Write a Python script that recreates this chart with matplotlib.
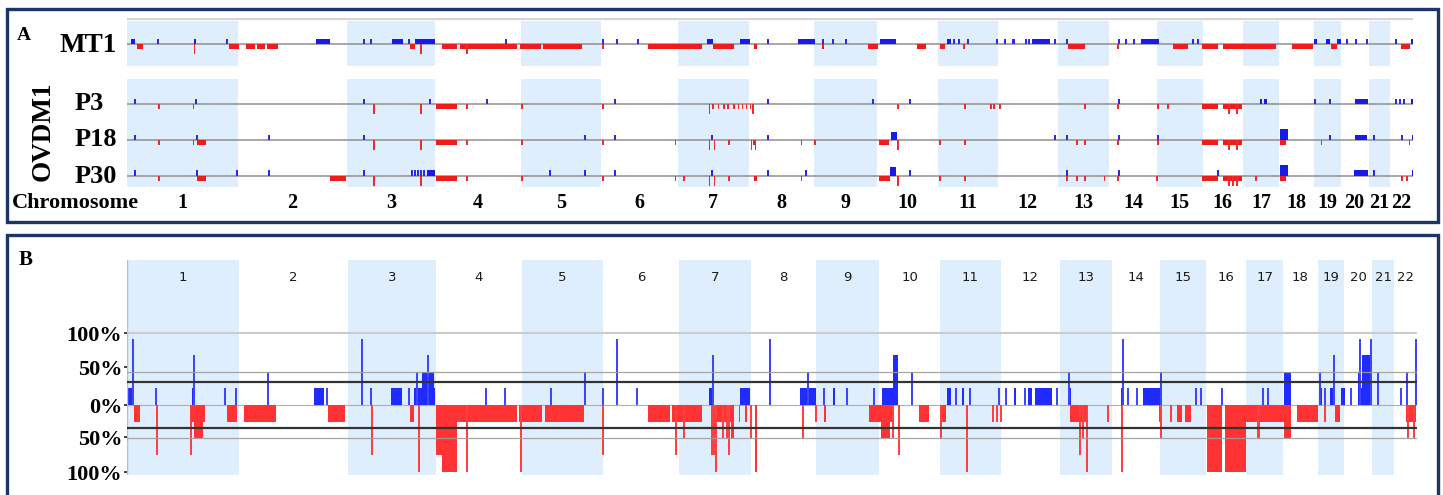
"""
Copy-number overview: per-sample gain/loss tracks (panel A) and
gain/loss frequency across the four samples (panel B).
"""

import matplotlib
matplotlib.use("Agg")
import matplotlib.pyplot as plt
from matplotlib.patches import Rectangle

W, H = 1443, 495

# chromosome lengths in Mb (hg19)
chrom_names = [str(i) for i in range(1, 23)]
chrom_len = [249.3, 243.2, 198.0, 191.2, 180.9, 171.1, 159.1, 146.4, 141.2, 135.5,
             135.0, 133.9, 115.2, 107.3, 102.5, 90.4, 81.2, 78.1, 59.1, 63.0, 48.1, 51.3]

# panel A: (start Mb, end Mb, level) in genome-wide coordinates, start == end is a focal event
mt1_gain = [(8, 18, 1), (70, 70, 1), (149, 155, 1), (225, 225, 1), (424, 455, 1), (530, 530, 1),
            (547, 547, 1), (593, 619, 1), (631, 631, 1), (646, 691, 1), (850, 850, 1), (1067, 1067, 1),
            (1098, 1098, 1), (1144, 1144, 1), (1300, 1313, 1), (1373, 1395, 1), (1436, 1436, 1),
            (1504, 1542, 1), (1560, 1560, 1), (1582, 1582, 1), (1611, 1611, 1), (1688, 1722, 1),
            (1836, 1845, 1), (1853, 1853, 1), (1864, 1864, 1), (1883, 1883, 1), (1950, 1950, 1),
            (1968, 1968, 1), (1986, 1986, 1), (2013, 2013, 1), (2021, 2021, 1), (2028, 2068, 1),
            (2078, 2078, 1), (2105, 2105, 1), (2223, 2223, 1), (2238, 2238, 1), (2256, 2256, 1),
            (2271, 2311, 1), (2388, 2388, 1), (2400, 2400, 1), (2660, 2667, 1), (2686, 2696, 1),
            (2711, 2720, 1), (2733, 2733, 1), (2753, 2753, 1), (2777, 2777, 1), (2843, 2843, 1),
            (2876, 2880, 1)]
mt1_loss = [(22, 35, 1), (151, 151, 2), (229, 250, 1), (267, 287, 1), (292, 309, 1), (313, 339, 1),
            (633, 646, 1), (658, 658, 2), (706, 739, 1), (747, 874, 1), (762, 762, 2), (880, 928, 1),
            (933, 1019, 1), (1067, 1067, 1), (1167, 1288, 1), (1313, 1359, 1), (1404, 1412, 1),
            (1558, 1561, 1), (1660, 1682, 1), (1769, 1791, 1), (1821, 1832, 1), (1875, 1875, 1),
            (2108, 2146, 1), (2220, 2220, 1), (2344, 2376, 1), (2409, 2444, 1), (2456, 2574, 1),
            (2609, 2658, 1), (2697, 2711, 1), (2853, 2875, 1)]

p3_gain = [(18, 18, 1), (154, 154, 1), (530, 530, 1), (679, 679, 1), (806, 806, 1), (1094, 1094, 1),
           (1436, 1436, 1), (1672, 1672, 1), (1755, 1755, 1), (2223, 2223, 1), (2538, 2543, 1),
           (2548, 2553, 1), (2662, 2662, 1), (2696, 2696, 1), (2751, 2781, 1), (2843, 2843, 1),
           (2852, 2852, 1), (2861, 2861, 1), (2876, 2880, 1)]
p3_loss = [(72, 72, 1), (149, 149, 1), (554, 554, 2), (658, 658, 2), (693, 739, 1), (762, 762, 1),
           (885, 885, 1), (1067, 1067, 1), (1305, 1305, 2), (1312, 1312, 1), (1325, 1325, 1),
           (1338, 1338, 1), (1347, 1347, 1), (1359, 1359, 1), (1370, 1370, 1), (1379, 1379, 1),
           (1388, 1388, 1), (1397, 1397, 1), (1403, 1403, 2), (1728, 1728, 1), (1877, 1877, 1),
           (1936, 1936, 1), (1942, 1942, 1), (1956, 1956, 1), (2146, 2146, 1), (2220, 2220, 1),
           (2310, 2310, 1), (2332, 2332, 1), (2409, 2444, 1), (2456, 2498, 1), (2469, 2469, 2),
           (2486, 2486, 2)]

p18_gain = [(18, 18, 1), (156, 156, 1), (318, 318, 1), (530, 530, 1), (1025, 1025, 1), (1094, 1094, 1),
            (1311, 1311, 1), (1436, 1436, 1), (1712, 1724, 1.5), (2078, 2078, 1), (2105, 2105, 1),
            (2223, 2223, 1), (2310, 2310, 1), (2583, 2600, 2), (2696, 2696, 1), (2751, 2779, 1),
            (2794, 2794, 1), (2856, 2856, 1), (2878, 2880, 1)]
p18_loss = [(72, 72, 1), (149, 149, 1), (156, 177, 1), (554, 554, 2), (658, 658, 2), (693, 739, 1),
            (762, 762, 1), (885, 885, 1), (1067, 1067, 1), (1229, 1229, 1), (1305, 1305, 2),
            (1316, 1316, 2), (1348, 1348, 1), (1399, 1399, 2), (1403, 1410, 1), (1408, 1408, 2),
            (1511, 1511, 1), (1541, 1541, 1), (1684, 1707, 1), (1728, 1728, 2), (1821, 1821, 1),
            (1877, 1877, 1), (2128, 2128, 1), (2146, 2146, 1), (2220, 2220, 1), (2310, 2310, 1),
            (2409, 2444, 1), (2456, 2498, 1), (2469, 2469, 2), (2486, 2486, 2), (2583, 2596, 1),
            (2676, 2676, 1), (2873, 2873, 1)]

p30_gain = [(18, 18, 1), (156, 156, 1), (247, 247, 1), (318, 318, 1), (530, 530, 1), (638, 638, 1),
            (645, 645, 1), (652, 652, 1), (659, 659, 1), (666, 666, 1), (672, 691, 1), (948, 948, 1),
            (1025, 1025, 1), (1094, 1094, 1), (1311, 1311, 1), (1436, 1436, 1), (1522, 1522, 1),
            (1709, 1722, 1.5), (1755, 1755, 1), (2105, 2105, 1), (2223, 2223, 1), (2444, 2444, 1),
            (2583, 2600, 2), (2748, 2781, 1), (2794, 2794, 1), (2878, 2880, 1)]
p30_loss = [(72, 72, 1), (156, 177, 1), (455, 491, 1), (554, 554, 2), (658, 658, 2), (693, 739, 1),
            (762, 762, 1), (885, 885, 1), (1067, 1067, 1), (1229, 1229, 1), (1247, 1247, 1),
            (1305, 1305, 2), (1316, 1316, 2), (1348, 1348, 1), (1404, 1412, 1), (1511, 1511, 1),
            (1684, 1709, 1), (1728, 1728, 2), (1821, 1821, 1), (1877, 1877, 1), (2105, 2105, 1),
            (2128, 2128, 1), (2146, 2146, 1), (2190, 2190, 1), (2220, 2220, 1), (2307, 2307, 1),
            (2409, 2444, 1), (2456, 2498, 1), (2469, 2469, 2), (2478, 2478, 2), (2486, 2486, 2),
            (2529, 2529, 1), (2583, 2596, 1), (2857, 2857, 1), (2868, 2868, 1)]

# panel B: frequency of gains / losses (%), (start Mb, end Mb, percent)
freq_gain = [(3, 14, 25), (13, 13, 100), (65, 65, 25), (145, 152, 25), (150, 150, 75), (219, 219, 25),
             (243, 243, 25), (314, 314, 50), (418, 441, 25), (447, 447, 25), (525, 525, 100),
             (546, 546, 25), (589, 615, 25), (630, 630, 25), (640, 688, 25), (647, 647, 50),
             (659, 685, 50), (673, 673, 75), (801, 801, 25), (845, 845, 25), (948, 948, 25),
             (1023, 1023, 50), (1064, 1064, 25), (1095, 1095, 100), (1140, 1140, 25), (1300, 1310, 25),
             (1308, 1308, 75), (1370, 1392, 25), (1435, 1435, 100), (1502, 1538, 25), (1520, 1520, 50),
             (1556, 1556, 25), (1576, 1581, 25), (1608, 1608, 25), (1669, 1669, 25), (1686, 1720, 25),
             (1710, 1722, 75), (1753, 1753, 50), (1832, 1840, 25), (1852, 1852, 25), (1864, 1870, 25),
             (1882, 1882, 25), (1947, 1947, 25), (1963, 1963, 25), (1982, 1986, 25), (2005, 2005, 25),
             (2012, 2021, 25), (2027, 2066, 25), (2076, 2076, 25), (2103, 2103, 50), (2105, 2109, 25),
             (2221, 2227, 25), (2225, 2225, 100), (2236, 2236, 25), (2255, 2255, 25), (2270, 2307, 25),
             (2309, 2309, 50), (2388, 2388, 25), (2398, 2398, 25), (2445, 2445, 25), (2538, 2538, 25),
             (2549, 2549, 25), (2583, 2600, 50), (2663, 2668, 25), (2665, 2665, 50), (2676, 2676, 25),
             (2687, 2698, 25), (2696, 2696, 75), (2712, 2721, 25), (2734, 2734, 25), (2749, 2777, 25),
             (2749, 2754, 50), (2758, 2777, 75), (2754, 2754, 100), (2778, 2778, 100), (2794, 2794, 50),
             (2846, 2846, 25), (2858, 2858, 50), (2879, 2879, 100)]
freq_loss = [(16, 29, 25), (67, 67, 75), (142, 142, 75), (143, 175, 25), (150, 170, 50), (224, 245, 25),
             (262, 333, 25), (450, 486, 25), (548, 548, 75), (632, 641, 25), (653, 653, 100),
             (691, 704, 75), (704, 736, 100), (736, 872, 25), (760, 760, 100), (875, 926, 25),
             (881, 881, 100), (933, 1020, 25), (1064, 1064, 75), (1164, 1213, 25), (1218, 1285, 25),
             (1226, 1226, 75), (1244, 1244, 50), (1306, 1356, 25), (1306, 1306, 75), (1311, 1311, 75),
             (1315, 1315, 100), (1331, 1331, 50), (1340, 1340, 50), (1345, 1345, 75), (1349, 1356, 50),
             (1366, 1370, 25), (1380, 1385, 25), (1394, 1394, 50), (1403, 1407, 100), (1510, 1510, 50),
             (1539, 1539, 25), (1556, 1561, 25), (1658, 1710, 25), (1684, 1703, 50), (1710, 1710, 50),
             (1725, 1725, 75), (1768, 1791, 25), (1819, 1830, 25), (1819, 1819, 50), (1876, 1876, 100),
             (1933, 1933, 25), (1944, 1944, 25), (1952, 1952, 25), (2105, 2143, 25), (2128, 2128, 75),
             (2135, 2135, 50), (2145, 2145, 100), (2190, 2190, 25), (2223, 2223, 100), (2304, 2309, 25),
             (2310, 2310, 50), (2332, 2332, 25), (2346, 2356, 25), (2363, 2376, 25), (2411, 2445, 100),
             (2453, 2499, 100), (2499, 2594, 25), (2527, 2527, 50), (2583, 2600, 50), (2613, 2660, 25),
             (2676, 2676, 25), (2698, 2709, 25), (2857, 2878, 25), (2861, 2861, 50), (2874, 2874, 50)]

# y positions of the percent labels on panel B, as drawn
pct_tick_pos = [108, 57, 0, -48, -101]
pct_tick_labels = ["100%", "50%", "0%", "50%", "100%"]

SHADE = "#dfeefc"
FRAME = "#1d3563"
SERIF = ["Liberation Serif", "DejaVu Serif"]


def fig_rect(x0, y0, x1, y1):
    """Pixel box (top-left origin) -> figure fraction [l, b, w, h]."""
    return [x0 / W, 1 - y1 / H, (x1 - x0) / W, (y1 - y0) / H]


def chrom_starts():
    starts = []
    pos = 0.0
    for n in chrom_len:
        starts.append(pos)
        pos += n
    return starts, pos


def draw_events(ax, items, base, unit, color, thin_color, min_w, z=3):
    """Draw blocks (start < end) and focal events (start == end) as bars from base."""
    for s, e, v in items:
        h = v * unit
        if e > s:
            ax.bar(s, h, width=e - s, bottom=base, align="edge", color=color,
                   linewidth=0, zorder=z)
        else:
            ax.bar(s - min_w / 2, h, width=min_w, bottom=base, align="edge",
                   color=thin_color, linewidth=0, zorder=z)


def panel_a(fig, starts, total):
    ax = fig.add_axes(fig_rect(127, 18, 1413, 190))
    ax.set_xlim(0, total)
    ax.set_ylim(190, 18)  # pixel-like units, downward
    ax.axis("off")

    for i, (s, n) in enumerate(zip(starts, chrom_len)):
        if i % 2 == 0:
            ax.bar(s, 45, width=n, bottom=21, align="edge", color=SHADE, linewidth=0, zorder=0)
            ax.bar(s, 108, width=n, bottom=79, align="edge", color=SHADE, linewidth=0, zorder=0)
        ax.text(s + n / 2, 203, chrom_names[i], ha="center", va="center", fontsize=14.5,
                fontweight="bold", family=SERIF, clip_on=False)

    ax.plot([0, total], [19.3, 19.3], color="#d4d4d4", lw=1.6, zorder=1)

    tracks = [(44.3, mt1_gain, mt1_loss), (104.3, p3_gain, p3_loss),
              (140.0, p18_gain, p18_loss), (175.7, p30_gain, p30_loss)]
    for base, gains, losses in tracks:
        ax.plot([0, total], [base, base], color="#8f8f8f", lw=1.1, zorder=2)
        draw_events(ax, gains, base, -5.5, "#1a1ae8", "#2a2aee", 4.5)
        draw_events(ax, losses, base, 5.0, "#f01c1c", "#f02a2a", 4.0)
    return ax


def panel_b(fig, starts, total):
    ax = fig.add_axes(fig_rect(127, 260, 1417, 475))
    ax.set_xlim(0, total)
    ax.set_ylim(-105, 218)

    for i, (s, n) in enumerate(zip(starts, chrom_len)):
        if i % 2 == 0:
            ax.axvspan(s, s + n, color=SHADE, linewidth=0, zorder=0)
        ax.text(s + n / 2, 191, chrom_names[i], ha="center", va="center", fontsize=9.5,
                color="#1a1a1a", family="DejaVu Sans")

    draw_events(ax, freq_gain, 0, 1, "#1f2bff", "#3c46ff", 4.5)
    draw_events(ax, [(s, e, -v) for s, e, v in freq_loss], 0, 1, "#ff3333", "#ff4040", 4.5)

    # reference lines sit on top of the bars
    ax.axhline(108, color="#cccccc", lw=1.5, zorder=5)
    for y in (50, -50):
        ax.axhline(y, color="#9c9c9c", lw=0.9, alpha=0.9, zorder=5)
    for y in (34, -34):
        ax.axhline(y, color="#333333", lw=1.6, zorder=6)
    ax.axhline(0, color="#b0b0b0", lw=0.8, zorder=2)
    ax.axvline(0, color="#bdbdbd", lw=1.0, zorder=4)

    for side in ("top", "right", "bottom", "left"):
        ax.spines[side].set_visible(False)
    ax.set_xticks([])
    ax.set_yticks(pct_tick_pos)
    ax.set_yticklabels(pct_tick_labels, fontsize=16, fontweight="bold", family=SERIF)
    ax.tick_params(axis="y", length=2.5, width=1.3, color="#333333", pad=1)
    return ax


def frames_and_labels(fig):
    for y0, y1 in ((8.5, 222), (234.5, 530)):
        fig.patches.append(Rectangle((6.5 / W, 1 - y1 / H), (1438 - 6.5) / W, (y1 - y0) / H,
                                     transform=fig.transFigure, fill=False,
                                     edgecolor=FRAME, lw=2.4))

    def put(x, y, s, size, **kw):
        fig.text(x / W, 1 - y / H, s, fontsize=size, fontweight="bold", family=SERIF, **kw)

    put(24, 36, "A", 14, ha="center", va="center")
    put(60, 45, "MT1", 19.5, ha="left", va="center")
    put(43, 131, "OVDM1", 19.5, ha="center", va="center", rotation=90)
    put(75, 104, "P3", 19, ha="left", va="center")
    put(75, 140, "P18", 19, ha="left", va="center")
    put(75, 176, "P30", 19, ha="left", va="center")
    put(12, 203, "Chromosome", 16, ha="left", va="center")
    put(26, 260, "B", 15, ha="center", va="center")


if __name__ == "__main__":
    starts, total = chrom_starts()
    fig = plt.figure(figsize=(W / 100, H / 100), dpi=100)
    panel_a(fig, starts, total)
    panel_b(fig, starts, total)
    frames_and_labels(fig)
    fig.savefig("out.png", dpi=100)
    plt.close(fig)
